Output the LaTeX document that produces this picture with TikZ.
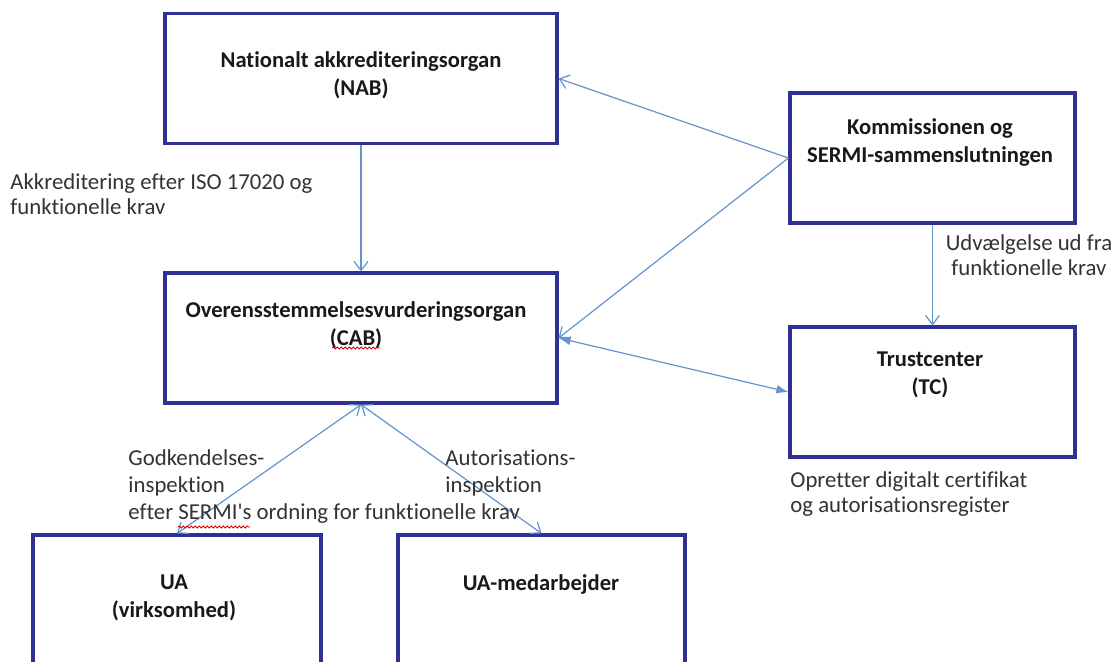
\documentclass[tikz,border=0pt]{standalone}
\usepackage{fontspec}
\setmainfont{Carlito}[Ligatures=NoCommon]
\usepackage{xcolor}
\usetikzlibrary{arrows.meta}
\usetikzlibrary{decorations.pathmorphing}
\definecolor{boxblue}{RGB}{46,48,148}
\definecolor{lineblue}{RGB}{100,148,205}
\tikzstyle{orgbox}=[draw=boxblue, line width=1.6pt, fill=white, minimum height=65pt, inner sep=0pt]
\tikzstyle{orgtext}=[font=\fontsize{11.3}{14}\selectfont\bfseries, align=center, text=black!90, inner sep=0pt]
\tikzstyle{note}=[font=\fontsize{11.4}{12.7}\selectfont, align=left, text=black!80, inner sep=0pt]
\tikzstyle{flow}=[draw=lineblue, line width=0.6pt, -{Straight Barb[length=4.5pt,width=7pt]}]
\tikzstyle{both}=[draw=lineblue, line width=0.6pt, {Straight Barb[length=4.5pt,width=7pt]}-{Straight Barb[length=4.5pt,width=7pt]}]
\tikzstyle{bothfilled}=[draw=lineblue, line width=0.6pt, {Latex[length=6pt,width=4.5pt]}-{Latex[length=6pt,width=4.5pt]}]
\tikzstyle{spellmark}=[draw=red!85!black, line width=0.4pt, decorate, decoration={snake, amplitude=0.5pt, segment length=2pt}]

\begin{document}
\begin{tikzpicture}[x=0.5pt, y=-0.5pt]
	\useasboundingbox[fill=white] (0,0) rectangle (1117,661);
	\clip (0,0) rectangle (1117,661);
%
	\node[orgbox, minimum width=196pt] (nab) at (361,78.5) {};
	\node[orgbox, minimum width=196pt] (cab) at (361,338) {};
	\node[orgbox, minimum width=142.5pt] (komm) at (932.5,158) {};
	\node[orgbox, minimum width=142.5pt] (tc) at (932.5,392) {};
	\node[orgbox, minimum width=144pt] (ua) at (177,600) {};
	\node[orgbox, minimum width=143.5pt] (uamed) at (541.5,600) {};
%
	\node[orgtext] (nabtext) at (361,75) {Nationalt akkrediteringsorgan\\(NAB)};
	\node[orgtext] (cabtext) at (356,325) {Overensstemmelsesvurderingsorgan\\(CAB)};
	\node[orgtext] (kommtext) at (930,142) {Kommissionen og\\SERMI-sammenslutningen};
	\node[orgtext] (tctext) at (930,375) {Trustcenter\\(TC)};
	\node[orgtext] (uatext) at (174,598) {UA\\(virksomhed)};
	\node[orgtext] (uamedtext) at (541,584) {UA-medarbejder};
%
	\draw[flow] (komm.west) -- (nab.east);
	\draw[flow] (komm.west) -- (cab.east);
	\draw[bothfilled] (cab.east) -- (tc.west);
	\draw[flow] (nab.south) -- (cab.north);
	\draw[flow] (komm.south) -- (tc.north);
	\draw[both] (cab.south) -- (ua.north);
	\draw[both] (cab.south) -- (uamed.north);
%
	\node[note, anchor=north west] (akklabel) at (10,173) {Akkreditering efter ISO 17020 og\\funktionelle krav};
	\node[note, align=center, anchor=north] (udvlabel) at (1029,234) {Udvælgelse ud fra\\funktionelle krav};
	\node[note, anchor=north west] (oprlabel) at (790,471) {Opretter digitalt certifikat\\og autorisationsregister};
	\node[note, anchor=north west, font=\fontsize{11.4}{13.5}\selectfont] (godklabel) at (128,449) {Godkendelses-\\inspektion\\efter SERMI\textquotesingle s ordning for funktionelle krav};
	\node[note, anchor=north west, font=\fontsize{11.4}{13.5}\selectfont] (autlabel) at (445,449) {Autorisations-\\inspektion};
%
	\draw[spellmark] (332,348) -- (380,348);
	\draw[spellmark] (178,527) -- (250,527);
\end{tikzpicture}
\end{document}
